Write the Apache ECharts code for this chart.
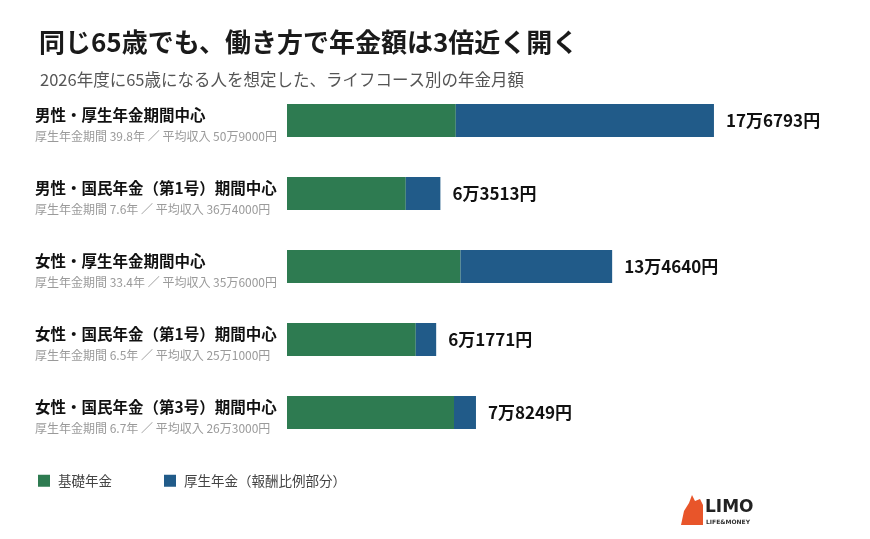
<!DOCTYPE html>
<html>
<head>
<meta charset="utf-8">
<script src="https://cdn.jsdelivr.net/npm/echarts@6/dist/echarts.min.js"></script>
<style>
html,body{margin:0;padding:0;background:#fff;}
#main{width:870px;height:539px;}
</style>
</head>
<body>
<div id="main"></div>
<script>
const categories = [
  '男性・厚生年金期間中心',
  '男性・国民年金（第1号）期間中心',
  '女性・厚生年金期間中心',
  '女性・国民年金（第1号）期間中心',
  '女性・国民年金（第3号）期間中心'
];
const subLabels = [
  '厚生年金期間 39.8年 ／ 平均収入 50万9000円',
  '厚生年金期間 7.6年 ／ 平均収入 36万4000円',
  '厚生年金期間 33.4年 ／ 平均収入 35万6000円',
  '厚生年金期間 6.5年 ／ 平均収入 25万1000円',
  '厚生年金期間 6.7年 ／ 平均収入 26万3000円'
];
const basicPension = [69890, 49180, 71840, 53320, 69150];
const employeePension = [106903, 14333, 62800, 8451, 9099];
const totals = [176793, 63513, 134640, 61771, 78249];
const seriesNames = ['基礎年金', '厚生年金（報酬比例部分）'];

const FONT = '"Noto Sans CJK JP", "Noto Sans", sans-serif';

function fmtYen(v) {
  const man = Math.floor(v / 10000);
  const rest = String(v % 10000).padStart(4, '0');
  return man + '万' + rest + '円';
}

const chart = echarts.init(document.getElementById('main'), null, {renderer: 'canvas'});
chart.setOption({
  backgroundColor: '#ffffff',
  animation: false,
  textStyle: {fontFamily: FONT},
  title: [
    {
      text: '同じ65歳でも、働き方で年金額は3倍近く開く',
      left: 34, top: 23,
      textStyle: {fontFamily: FONT, fontSize: 26, fontWeight: 'bold', color: '#1a1a1a', lineHeight: 28}
    },
    {
      text: '2026年度に65歳になる人を想定した、ライフコース別の年金月額',
      left: 35, top: 66,
      textStyle: {fontFamily: FONT, fontSize: 16.5, fontWeight: 'normal', color: '#555555', lineHeight: 18}
    }
  ],
  legend: {
    left: 33, top: 469,
    itemWidth: 12, itemHeight: 12, itemGap: 52,
    icon: 'rect',
    textStyle: {fontFamily: FONT, fontSize: 13.5, color: '#444444', padding: [0, 0, 0, 3]},
    data: seriesNames
  },
  grid: {left: 287, top: 84, width: 483, height: 365, containLabel: false},
  xAxis: {
    type: 'value', min: 0, max: 200000,
    show: false
  },
  yAxis: {
    type: 'category', inverse: true, data: categories,
    axisLine: {show: false}, axisTick: {show: false}, splitLine: {show: false},
    axisLabel: {
      align: 'left', margin: 252,
      formatter: function (value, index) {
        return '{t|' + value + '}\n{s|' + subLabels[index] + '}';
      },
      rich: {
        t: {fontFamily: FONT, fontSize: 15.5, fontWeight: 'bold', color: '#111111', lineHeight: 32},
        s: {fontFamily: FONT, fontSize: 12, color: '#9a9a9a', lineHeight: 11}
      }
    }
  },
  series: [
    {
      name: seriesNames[0], type: 'bar', stack: 'total', barWidth: 33,
      itemStyle: {color: '#2e7b51'},
      data: basicPension
    },
    {
      name: seriesNames[1], type: 'bar', stack: 'total', barWidth: 33,
      itemStyle: {color: '#215b89'},
      label: {
        show: true, position: 'right', distance: 12,
        fontFamily: FONT, fontSize: 17, fontWeight: 'bold', color: '#111111',
        formatter: function (p) { return fmtYen(totals[p.dataIndex]); }
      },
      data: employeePension
    }
  ],
  graphic: [
    {
      type: 'group', left: 681, top: 495,
      children: [
        {type: 'polygon', shape: {points: [[0,30],[3,16],[8,8],[11,0],[14,6],[19,4],[22,10],[22,30]]}, style: {fill: '#e8552a'}},
        {type: 'text', x: 24, y: 4, style: {text: 'LIMO', font: 'bold 17px "DejaVu Sans", sans-serif', fill: '#222222'}},
        {type: 'text', x: 25, y: 24, style: {text: 'LIFE&MONEY', font: 'bold 6px "DejaVu Sans", sans-serif', fill: '#333333'}}
      ]
    }
  ]
});
</script>
</body>
</html>
